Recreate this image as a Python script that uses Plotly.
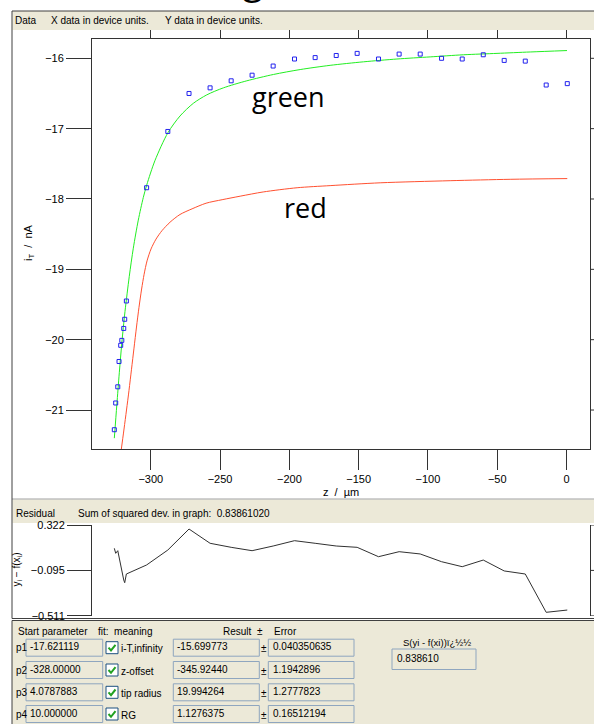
import plotly.graph_objects as go

W, H = 594, 724

# ---------------- data ----------------
z_data = [-326.3, -325.3, -323.8, -322.9, -321.7, -320.9, -319.5, -318.8, -317.6,
          -303.0, -287.7, -272.4, -257.2, -242.0, -226.9, -211.7, -196.3, -181.4,
          -166.2, -151.1, -135.7, -120.8, -105.6, -90.2, -75.3, -60.1, -45.0,
          -29.8, -14.7, 0.5]
i_data = [-21.28, -20.90, -20.67, -20.31, -20.08, -20.01, -19.84, -19.71, -19.45,
          -17.84, -17.04, -16.50, -16.42, -16.32, -16.24, -16.11, -16.01, -15.99,
          -15.96, -15.93, -16.01, -15.94, -15.94, -16.00, -16.01, -15.95, -16.03,
          -16.04, -16.38, -16.36]

z_green = [-326.3, -324.5, -322.7, -320.9, -318.6, -315.5, -312.6, -309.0, -305.4,
           -302.9, -296.9, -287.7, -278.9, -269.3, -259.6, -247.6, -230.7, -211.5,
           -192.2, -170.6, -146.5, -122.4, -98.4, -74.4, -50.2, -26.2, 0.3]
i_green = [-21.40, -20.93, -20.47, -20.05, -19.60, -19.10, -18.70, -18.30, -17.98,
           -17.80, -17.45, -17.06, -16.82, -16.64, -16.52, -16.42, -16.32, -16.23,
           -16.16, -16.10, -16.05, -16.01, -15.98, -15.95, -15.93, -15.91, -15.89]

z_red = [-321.8, -319.3, -317.5, -315.7, -313.9, -312.1, -310.3, -308.5, -306.6,
         -304.8, -302.7, -299.8, -296.2, -291.9, -286.1, -278.9, -270.2, -260.1,
         -248.5, -235.5, -218.9, -194.4, -170.6, -134.5, -84.0, -40.7, 0.5]
i_red = [-21.64, -21.27, -21.00, -20.72, -20.42, -20.12, -19.82, -19.54, -19.28,
         -19.07, -18.88, -18.71, -18.57, -18.45, -18.33, -18.22, -18.14, -18.06,
         -18.01, -17.96, -17.90, -17.84, -17.81, -17.77, -17.74, -17.72, -17.71]

residual = [0.108, 0.062, 0.086, 0.025, -0.045, -0.107, -0.183, -0.208, -0.128,
            -0.045, 0.092, 0.285, 0.154, 0.117, 0.086, 0.129, 0.178, 0.154,
            0.129, 0.117, 0.031, 0.077, 0.056, -0.015, -0.061, 0.0, -0.100,
            -0.128, -0.480, -0.459]

x_ticks = [-300, -250, -200, -150, -100, -50, 0]
y_ticks = [-16, -17, -18, -19, -20, -21]
res_ticks = [0.322, -0.095, -0.511]
res_ticktext = ["0.322", "\u22120.095", "\u22120.511"]

param_names = ["p1", "p2", "p3", "p4"]
start_vals = ["-17.621119", "-328.00000", "4.0787883", "10.000000"]
meanings = ["i-T,infinity", "z-offset", "tip radius", "RG"]
results = ["-15.699773", "-345.92440", "19.994264", "1.1276375"]
errors = ["0.040350635", "1.1942896", "1.2777823", "0.16512194"]
sum_sq = "0.83861020"
s_value = "0.838610"

# ---------------- helpers (pixel -> paper) ----------------
def X(px):
    return px / W

def Y(py):
    return 1 - py / H

UI = "Liberation Sans"
BEIGE = "#ECE9D8"
BOXLINE = "#8FA6BF"
BORDER = "#404040"

shapes = []
annotations = []

def rect(x0, y0, x1, y1, fill, line=None, width=1, layer="below"):
    shapes.append(dict(type="rect", xref="paper", yref="paper",
                       x0=X(x0), x1=X(x1), y0=Y(y1), y1=Y(y0),
                       fillcolor=fill,
                       line=dict(color=line or "rgba(0,0,0,0)", width=width if line else 0),
                       layer=layer))

def seg(x0, y0, x1, y1, color, width=1, layer="below"):
    shapes.append(dict(type="line", xref="paper", yref="paper",
                       x0=X(x0), x1=X(x1), y0=Y(y0), y1=Y(y1),
                       line=dict(color=color, width=width), layer=layer))

def txt(px, py, s, size=10, anchor="left", family=UI, color="black", angle=0, yanchor="middle"):
    annotations.append(dict(x=X(px), y=Y(py), xref="paper", yref="paper", text=s,
                            showarrow=False, xanchor=anchor, yanchor=yanchor,
                            textangle=angle, borderpad=0,
                            font=dict(size=size, color=color, family=family)))

# ---------------- panels ----------------
# data panel
rect(12, 11, 594, 499, "white")
rect(12.5, 11, 594, 30, BEIGE, None, layer="above")
seg(12, 11, 594, 11, BORDER, layer="above")
seg(12, 11, 12, 499, BORDER, layer="above")
txt(14, 20, "Data", 10)
txt(50, 20, "X data in device units.", 10)
txt(164, 20, "Y data in device units.", 10)

# residual panel
rect(12, 499, 594, 618.5, "white")
rect(12.5, 499.5, 594, 523, BEIGE, None)
seg(12, 499, 594, 499, "#A0A0A0")
seg(12, 499, 12, 618.5, BORDER)
seg(12, 618.5, 594, 618.5, BORDER)
txt(15, 513, "Residual", 10)
txt(77, 513, "Sum of squared dev. in graph:  " + sum_sq, 10)

# parameter panel
rect(12, 620.5, 594, 724, BEIGE)
seg(12, 620.5, 594, 620.5, BORDER)
seg(12, 620.5, 12, 724, BORDER)
txt(17, 631, "Start parameter", 10)
txt(97, 631, "fit:  meaning", 10)
txt(253, 631, "Result", 10, anchor="right")
txt(260, 631, "\u00b1", 10, anchor="center")
txt(273, 631, "Error", 10)

row_c = [647.7, 670.0, 692.3, 714.0]
for k in range(4):
    yc = row_c[k]
    txt(15, yc, param_names[k], 10)
    rect(26, yc - 8.5, 102.7, yc + 8.5, BEIGE, BOXLINE)
    txt(29, yc - 1, start_vals[k], 10)
    # checkbox
    rect(106, yc - 6, 118, yc + 6, "white", "#1C5180")
    shapes.append(dict(type="path", xref="paper", yref="paper",
                       path="M %f %f L %f %f L %f %f" % (X(108.5), Y(yc), X(111), Y(yc + 2.8), X(115.5), Y(yc - 2.8)),
                       line=dict(color="#21A121", width=2)))
    txt(120, yc + 1, meanings[k], 10)
    rect(173.3, yc - 8.5, 259.3, yc + 8.5, BEIGE, BOXLINE)
    txt(176, yc - 1, results[k], 10)
    txt(264, yc + 1, "\u00b1", 10, anchor="center")
    rect(268.3, yc - 8.5, 354, yc + 8.5, BEIGE, BOXLINE)
    txt(271.5, yc - 1, errors[k], 10)

txt(437, 642.6, "S(yi - f(xi))\u00ef\u00bf\u00bd\u00bd", 9.5, anchor="center")
rect(392, 649, 476, 669.5, BEIGE, BOXLINE)
txt(396, 658.5, s_value, 10)

# right-hand tick stubs (the mirrored ticks run off the picture edge)
for v in y_ticks:
    shapes.append(dict(type="line", xref="paper", yref="y", x0=X(590), x1=X(594), y0=v, y1=v,
                       line=dict(color="#333", width=1)))
for v in res_ticks:
    shapes.append(dict(type="line", xref="paper", yref="y2", x0=X(590), x1=X(594), y0=v, y1=v,
                       line=dict(color="#333", width=1)))

# ---------------- text on the plot ----------------
txt(288, 97, "green", 27, anchor="center", family="Open Sans")
txt(305, 208, "red", 27, anchor="center", family="Open Sans")
txt(253, 6, "g", 36, anchor="center", family="Open Sans", yanchor="bottom")
txt(29, 243, "i<sub>T</sub>  /  nA", 11, anchor="center", angle=-90)
txt(341, 492, "z  /  \u00b5m", 11, anchor="center")
txt(16.5, 570, "y<sub>i</sub> \u2212 f(x<sub>i</sub>)", 10, anchor="center", angle=-90)

# ---------------- traces ----------------
fig = go.Figure()
fig.add_trace(go.Scatter(x=z_red, y=i_red, mode="lines",
                         line=dict(color="#FF5030", width=1, shape="spline", smoothing=0.8),
                         xaxis="x", yaxis="y", hoverinfo="skip"))
fig.add_trace(go.Scatter(x=z_green, y=i_green, mode="lines",
                         line=dict(color="#22EE22", width=1, shape="spline", smoothing=0.8),
                         xaxis="x", yaxis="y", hoverinfo="skip"))
fig.add_trace(go.Scatter(x=z_data, y=i_data, mode="markers",
                         marker=dict(symbol="square-open", size=4, color="#2222EE",
                                     line=dict(width=1, color="#2222EE")),
                         xaxis="x", yaxis="y"))
fig.add_trace(go.Scatter(x=z_data, y=residual, mode="lines", line=dict(color="#303030", width=1),
                         xaxis="x2", yaxis="y2"))

xr = [-342.4, 16.9]
tickfont = dict(family=UI, size=11, color="black")
fig.update_layout(
    width=W, height=H, autosize=False,
    margin=dict(l=0, r=0, t=0, b=0, pad=0, autoexpand=False),
    paper_bgcolor="white", plot_bgcolor="white",
    showlegend=False,
    xaxis=dict(domain=[X(92), X(590)], range=xr, anchor="y",
               tickvals=x_ticks, automargin=False,
               showline=True, linecolor="#333", linewidth=1, mirror="ticks",
               ticks="outside", ticklen=20, tickcolor="#333", tickwidth=1,
               showgrid=False, zeroline=False, tickfont=tickfont),
    yaxis=dict(domain=[Y(449), Y(38.5)], range=[-21.554, -15.7185], anchor="x",
               tickvals=y_ticks, automargin=False,
               showline=True, linecolor="#333", linewidth=1, mirror=True,
               ticks="outside", ticklen=25, tickcolor="#333", tickwidth=1,
               showgrid=False, zeroline=False, tickfont=tickfont),
    xaxis2=dict(domain=[X(92), X(590)], range=xr, anchor="y2", automargin=False,
                showline=False, showticklabels=False, ticks="", showgrid=False, zeroline=False),
    yaxis2=dict(domain=[Y(615.7), Y(525)], range=[-0.511, 0.322], anchor="x2",
                tickvals=res_ticks, ticktext=res_ticktext, automargin=False,
                showline=True, linecolor="#333", linewidth=1, mirror=True,
                ticks="outside", ticklen=24, tickcolor="#333", tickwidth=1,
                showgrid=False, zeroline=False, tickfont=tickfont),
    shapes=shapes,
    annotations=annotations,
)

fig.write_html("out.html", config={"displayModeBar": False},
               post_script="document.body.style.margin='0';document.body.style.overflow='hidden';")
